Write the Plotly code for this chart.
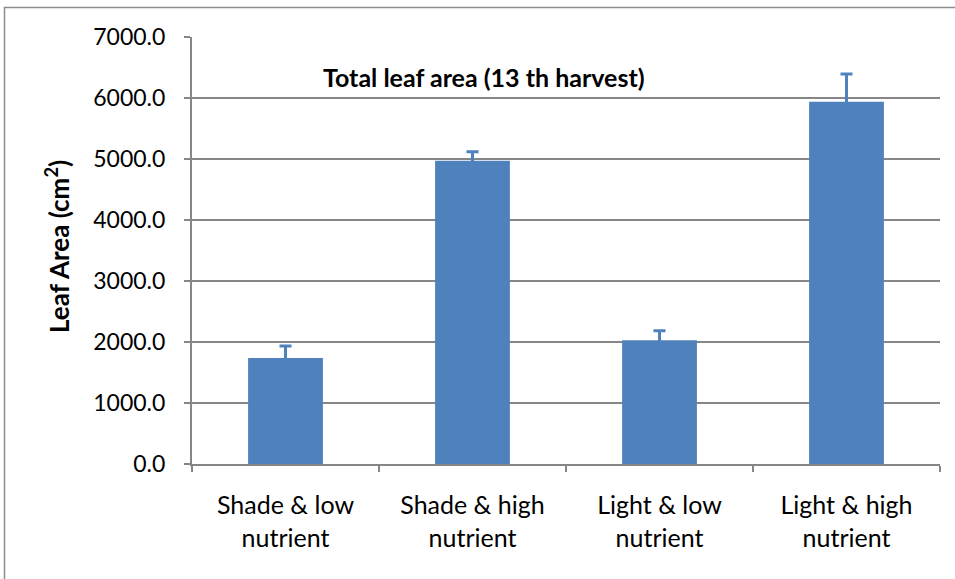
import plotly.graph_objects as go

categories = ["Shade & low<br>nutrient", "Shade & high<br>nutrient", "Light & low<br>nutrient", "Light & high<br>nutrient"]
leaf_area = [1738, 4970, 2028, 5940]
errors = [197, 150, 157, 455]
y_ticks = [0, 1000, 2000, 3000, 4000, 5000, 6000, 7000]

bar_color = "#4F81BD"
grid_color = "#868686"
font_family = "Lato, 'Noto Sans', sans-serif"

fig = go.Figure()
fig.add_trace(go.Bar(
    x=categories, y=leaf_area,
    marker=dict(color=bar_color, line=dict(width=0)),
    error_y=dict(type="data", array=errors, symmetric=True,
                 color=bar_color, thickness=3, width=6),
))

L, R, T, B = 192, 15, 37, 115
W, H = 955, 579
pw = W - L - R
ph = H - T - B

fig.update_layout(
    width=W, height=H,
    margin=dict(l=L, r=R, t=T, b=B),
    paper_bgcolor="white", plot_bgcolor="white",
    bargap=0.6,
    showlegend=False,
    font=dict(family=font_family, size=20, color="#000000"),
    xaxis=dict(
        showline=True, linecolor=grid_color, linewidth=2,
        ticks="outside", ticklen=6, tickcolor=grid_color, tickwidth=2,
        tickson="boundaries", showgrid=False,
        tickfont=dict(size=25), ticklabelstandoff=18,
    ),
    yaxis=dict(
        range=[0, 7000], tickvals=y_ticks, tickformat=".1f",
        showgrid=True, gridcolor=grid_color, gridwidth=2,
        showline=True, linecolor=grid_color, linewidth=2,
        ticks="outside", ticklen=6, tickcolor=grid_color, tickwidth=2,
        tickfont=dict(size=23), zeroline=False, ticklabelstandoff=14,
    ),
    annotations=[
        dict(
            text="<b>Total leaf area (13 th harvest)</b>",
            xref="paper", yref="paper", x=(484 - L) / pw, y=1 - (77 - T) / ph,
            showarrow=False, font=dict(size=25), xanchor="center", yanchor="middle",
        ),
        dict(
            text="<b>Leaf Area (cm<sup>2</sup>)</b>", textangle=-90,
            xref="paper", yref="paper", x=(57 - L) / pw, y=1 - (247 - T) / ph,
            showarrow=False, font=dict(size=26), xanchor="center", yanchor="middle",
        ),
    ],
    shapes=[dict(
        type="rect", xref="paper", yref="paper",
        x0=(4.5 - L) / pw, x1=(W + 10 - L) / pw,
        y0=1 - (H + 10 - T) / ph, y1=1 + (T - 7.5) / ph,
        line=dict(color="#8C8C8C", width=1.5), layer="below",
    )],
)

fig.write_html("out.html", config={"displayModeBar": False},
               post_script="document.body.style.margin='0';document.body.style.overflow='hidden';")
